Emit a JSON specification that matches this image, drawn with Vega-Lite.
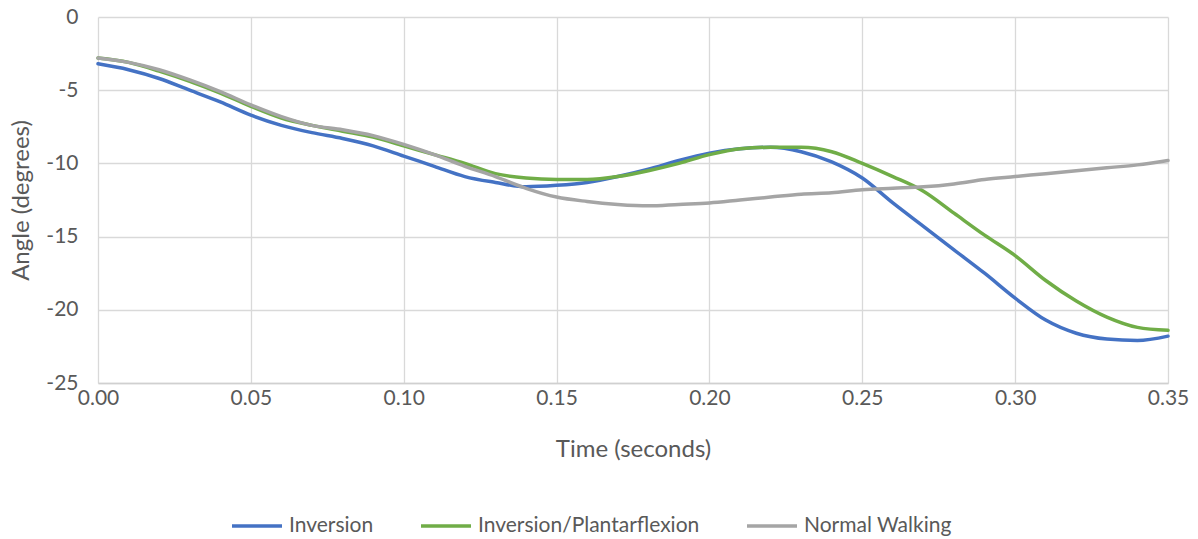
{
  "$schema": "https://vega.github.io/schema/vega-lite/v6.json",
  "width": 1070,
  "height": 366,
  "autosize": {"type": "none"},
  "padding": {"left": 98, "top": 17, "right": 30, "bottom": 156},
  "background": "white",
  "config": {
    "font": "Lato",
    "view": {"stroke": null}
  },
  "data": {
    "values": [
      {"t": 0.00, "Inversion": -3.2, "Inversion/Plantarflexion": -2.8, "Normal Walking": -2.8},
      {"t": 0.01, "Inversion": -3.6, "Inversion/Plantarflexion": -3.1, "Normal Walking": -3.1},
      {"t": 0.02, "Inversion": -4.2, "Inversion/Plantarflexion": -3.7, "Normal Walking": -3.6},
      {"t": 0.03, "Inversion": -5.0, "Inversion/Plantarflexion": -4.4, "Normal Walking": -4.3},
      {"t": 0.04, "Inversion": -5.8, "Inversion/Plantarflexion": -5.2, "Normal Walking": -5.1},
      {"t": 0.05, "Inversion": -6.7, "Inversion/Plantarflexion": -6.1, "Normal Walking": -6.0},
      {"t": 0.06, "Inversion": -7.4, "Inversion/Plantarflexion": -6.9, "Normal Walking": -6.8},
      {"t": 0.07, "Inversion": -7.9, "Inversion/Plantarflexion": -7.4, "Normal Walking": -7.4},
      {"t": 0.08, "Inversion": -8.3, "Inversion/Plantarflexion": -7.8, "Normal Walking": -7.7},
      {"t": 0.09, "Inversion": -8.8, "Inversion/Plantarflexion": -8.2, "Normal Walking": -8.1},
      {"t": 0.10, "Inversion": -9.5, "Inversion/Plantarflexion": -8.8, "Normal Walking": -8.7},
      {"t": 0.11, "Inversion": -10.2, "Inversion/Plantarflexion": -9.4, "Normal Walking": -9.4},
      {"t": 0.12, "Inversion": -10.9, "Inversion/Plantarflexion": -10.0, "Normal Walking": -10.2},
      {"t": 0.13, "Inversion": -11.3, "Inversion/Plantarflexion": -10.7, "Normal Walking": -10.9},
      {"t": 0.14, "Inversion": -11.6, "Inversion/Plantarflexion": -11.0, "Normal Walking": -11.7},
      {"t": 0.15, "Inversion": -11.5, "Inversion/Plantarflexion": -11.1, "Normal Walking": -12.3},
      {"t": 0.16, "Inversion": -11.3, "Inversion/Plantarflexion": -11.1, "Normal Walking": -12.6},
      {"t": 0.17, "Inversion": -10.9, "Inversion/Plantarflexion": -10.9, "Normal Walking": -12.8},
      {"t": 0.18, "Inversion": -10.4, "Inversion/Plantarflexion": -10.5, "Normal Walking": -12.9},
      {"t": 0.19, "Inversion": -9.8, "Inversion/Plantarflexion": -10.0, "Normal Walking": -12.8},
      {"t": 0.20, "Inversion": -9.3, "Inversion/Plantarflexion": -9.4, "Normal Walking": -12.7},
      {"t": 0.21, "Inversion": -9.0, "Inversion/Plantarflexion": -9.0, "Normal Walking": -12.5},
      {"t": 0.22, "Inversion": -8.9, "Inversion/Plantarflexion": -8.9, "Normal Walking": -12.3},
      {"t": 0.23, "Inversion": -9.2, "Inversion/Plantarflexion": -8.9, "Normal Walking": -12.1},
      {"t": 0.24, "Inversion": -9.9, "Inversion/Plantarflexion": -9.2, "Normal Walking": -12.0},
      {"t": 0.25, "Inversion": -11.0, "Inversion/Plantarflexion": -10.0, "Normal Walking": -11.8},
      {"t": 0.26, "Inversion": -12.7, "Inversion/Plantarflexion": -10.9, "Normal Walking": -11.7},
      {"t": 0.27, "Inversion": -14.3, "Inversion/Plantarflexion": -11.9, "Normal Walking": -11.6},
      {"t": 0.28, "Inversion": -15.9, "Inversion/Plantarflexion": -13.4, "Normal Walking": -11.4},
      {"t": 0.29, "Inversion": -17.5, "Inversion/Plantarflexion": -14.9, "Normal Walking": -11.1},
      {"t": 0.30, "Inversion": -19.2, "Inversion/Plantarflexion": -16.3, "Normal Walking": -10.9},
      {"t": 0.31, "Inversion": -20.7, "Inversion/Plantarflexion": -18.0, "Normal Walking": -10.7},
      {"t": 0.32, "Inversion": -21.6, "Inversion/Plantarflexion": -19.4, "Normal Walking": -10.5},
      {"t": 0.33, "Inversion": -22.0, "Inversion/Plantarflexion": -20.5, "Normal Walking": -10.3},
      {"t": 0.34, "Inversion": -22.1, "Inversion/Plantarflexion": -21.2, "Normal Walking": -10.1},
      {"t": 0.35, "Inversion": -21.8, "Inversion/Plantarflexion": -21.4, "Normal Walking": -9.8}
    ]
  },
  "transform": [
    {"fold": ["Inversion", "Inversion/Plantarflexion", "Normal Walking"], "as": ["series", "angle"]}
  ],
  "mark": {"type": "line", "interpolate": "monotone", "strokeWidth": 3.5, "strokeCap": "round"},
  "encoding": {
    "x": {
      "field": "t",
      "type": "quantitative",
      "scale": {"domain": [0, 0.35], "nice": false, "zero": false},
      "axis": {
        "title": "Time (seconds)",
        "values": [0, 0.05, 0.1, 0.15, 0.2, 0.25, 0.3, 0.35],
        "format": ".2f",
        "labelFlush": false,
        "grid": true,
        "gridColor": "#d9d9d9",
        "gridWidth": 1.3,
        "ticks": false,
        "domain": true,
        "domainColor": "#d0d0d0",
        "domainWidth": 1.3,
        "labelFontSize": 21,
        "labelColor": "#595959",
        "labelPadding": 4,
        "titleFontSize": 24,
        "titleFontWeight": "normal",
        "titleColor": "#595959",
        "titlePadding": 29
      }
    },
    "y": {
      "field": "angle",
      "type": "quantitative",
      "scale": {"domain": [-25, 0], "nice": false},
      "axis": {
        "title": "Angle (degrees)",
        "values": [-25, -20, -15, -10, -5, 0],
        "labelExpr": "'' + datum.value",
        "labelFlush": false,
        "grid": true,
        "gridColor": "#d9d9d9",
        "gridWidth": 1.3,
        "ticks": false,
        "domain": false,
        "labelFontSize": 21,
        "labelColor": "#595959",
        "labelPadding": 20,
        "titleFontSize": 24,
        "titleFontWeight": "normal",
        "titleColor": "#595959",
        "titlePadding": 12
      }
    },
    "color": {
      "field": "series",
      "type": "nominal",
      "scale": {
        "domain": ["Inversion", "Inversion/Plantarflexion", "Normal Walking"],
        "range": ["#4472C4", "#70AD47", "#A5A5A5"]
      },
      "legend": {
        "title": null,
        "orient": "none",
        "direction": "horizontal",
        "legendX": 132,
        "legendY": 482,
        "symbolType": "stroke",
        "symbolSize": 2500,
        "symbolStrokeWidth": 3.5,
        "labelFontSize": 21,
        "labelColor": "#595959",
        "labelLimit": 400,
        "labelOffset": 5,
        "columnPadding": 40
      }
    }
  }
}
